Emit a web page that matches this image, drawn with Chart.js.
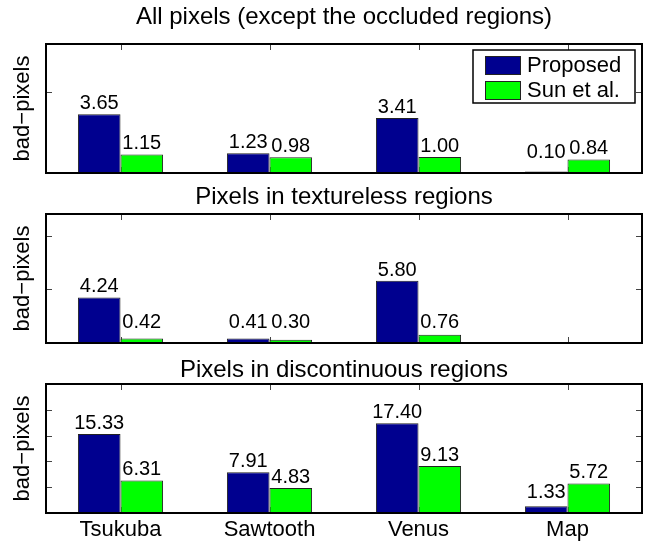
<!DOCTYPE html>
<html>
<head>
<meta charset="utf-8">
<script src="https://cdn.jsdelivr.net/npm/chart.js@4.4.0/dist/chart.umd.min.js"></script>
<style>
  html, body { margin: 0; padding: 0; background: #fff; }
  #wrap { position: relative; width: 649px; height: 541px; }
  #wrap canvas { position: absolute; left: 0; }
</style>
</head>
<body>
<div id="wrap">
  <canvas id="c1" width="649" height="175" style="top:0px"></canvas>
  <canvas id="c2" width="649" height="175" style="top:170px"></canvas>
  <canvas id="c3" width="649" height="201" style="top:340px"></canvas>
</div>
<script>
// data
const categories = ['Tsukuba', 'Sawtooth', 'Venus', 'Map'];
const seriesNames = ['Proposed', 'Sun et al.'];
const panelTitles = [
    'All pixels (except the occluded regions)',
    'Pixels in textureless regions',
    'Pixels in discontinuous regions'
];
const allProposed = [3.65, 1.23, 3.41, 0.10];
const allSun = [1.15, 0.98, 1.00, 0.84];
const texturelessProposed = [4.24, 0.41, 5.80, null];
const texturelessSun = [0.42, 0.30, 0.76, null];
const discProposed = [15.33, 7.91, 17.40, 1.33];
const discSun = [6.31, 4.83, 9.13, 5.72];
const yMaxes = [8, 12, 25];
const yTickValues = [5, 10, 15, 20];
const yLabel = 'bad\u2212pixels';

const FONT = '"Liberation Sans", Arial, Helvetica, sans-serif';
const colors = ['#00008f', '#00ff00'];

// matlab style box with inward ticks
const boxPlugin = {
    id: 'matlabBox',
    beforeDatasetsDraw(chart) {
        const { ctx, chartArea: a, scales: { x, y } } = chart;
        ctx.save();
        ctx.strokeStyle = '#444';
        ctx.lineWidth = 1;
        ctx.beginPath();
        yTickValues.forEach(v => {
            if (v <= y.min || v >= y.max) return;
            const py = Math.round(y.getPixelForValue(v)) + 0.5;
            ctx.moveTo(a.left, py); ctx.lineTo(a.left + 6, py);
            ctx.moveTo(a.right, py); ctx.lineTo(a.right - 6, py);
        });
        categories.forEach((c, i) => {
            const px = Math.round(x.getPixelForValue(i)) + 0.5;
            ctx.moveTo(px, a.top); ctx.lineTo(px, a.top + 6);
            ctx.moveTo(px, a.bottom); ctx.lineTo(px, a.bottom - 6);
        });
        ctx.stroke();
        ctx.restore();
    },
    afterDraw(chart) {
        const { ctx, chartArea: a } = chart;
        ctx.save();
        ctx.strokeStyle = '#000';
        ctx.lineWidth = 2;
        ctx.strokeRect(a.left, a.top, a.right - a.left, a.bottom - a.top);
        ctx.restore();
    }
};

// numbers above the bars
const valuePlugin = {
    id: 'barValues',
    afterDatasetsDraw(chart) {
        const { ctx, chartArea: a } = chart;
        ctx.save();
        ctx.font = '20px ' + FONT;
        ctx.fillStyle = '#000';
        ctx.textAlign = 'center';
        ctx.textBaseline = 'alphabetic';
        chart.data.datasets.forEach((ds, di) => {
            chart.getDatasetMeta(di).data.forEach((bar, i) => {
                const v = ds.data[i];
                if (v == null) return;
                const yy = Math.min(bar.y - 5, a.bottom - 15);
                ctx.fillText(v.toFixed(2), bar.x, yy);
            });
        });
        ctx.restore();
    }
};

// boxed legend in the upper right corner
const legendPlugin = {
    id: 'boxLegend',
    afterDraw(chart, args, opts) {
        if (!opts.show) return;
        const { ctx, chartArea: a } = chart;
        const w = 162, h = 53;
        const lx = a.right - 7 - w, ly = a.top + 6;
        ctx.save();
        ctx.fillStyle = '#fff';
        ctx.fillRect(lx, ly, w, h);
        ctx.strokeStyle = '#000';
        ctx.lineWidth = 1.5;
        ctx.strokeRect(lx, ly, w, h);
        ctx.font = '22px ' + FONT;
        ctx.textBaseline = 'middle';
        chart.data.datasets.forEach((ds, i) => {
            const ry = ly + 6 + i * 25;
            ctx.fillStyle = ds.backgroundColor;
            ctx.fillRect(lx + 12, ry, 35, 18);
            ctx.strokeStyle = '#222';
            ctx.lineWidth = 1;
            ctx.strokeRect(lx + 12.5, ry + 0.5, 35, 18);
            ctx.fillStyle = '#000';
            ctx.fillText(ds.label, lx + 54, ry + 10);
        });
        ctx.restore();
    }
};

function makePanel(canvasId, idx, proposed, sun, showX, titlePad, showLegend) {
    const ctx = document.getElementById(canvasId).getContext('2d');
    return new Chart(ctx, {
        type: 'bar',
        data: {
            labels: categories,
            datasets: [
                { label: seriesNames[0], data: proposed, backgroundColor: colors[0],
                  borderColor: '#222', borderWidth: 1 },
                { label: seriesNames[1], data: sun, backgroundColor: colors[1],
                  borderColor: '#222', borderWidth: 1 }
            ]
        },
        options: {
            responsive: false,
            animation: false,
            datasets: { bar: { barPercentage: 1, categoryPercentage: 0.5714 } },
            layout: { padding: { left: 0, right: 7, top: 0, bottom: showX ? 0 : 2 } },
            plugins: {
                legend: { display: false },
                tooltip: { enabled: false },
                title: {
                    display: true,
                    fullSize: false,
                    text: panelTitles[idx],
                    color: '#000',
                    font: { family: FONT, size: 24, weight: 'normal', lineHeight: 1 },
                    padding: titlePad
                },
                boxLegend: { show: showLegend }
            },
            scales: {
                x: {
                    grid: { display: false },
                    border: { display: false },
                    ticks: {
                        display: showX,
                        color: '#000',
                        padding: -2,
                        maxRotation: 0,
                        font: { family: FONT, size: 22, lineHeight: 1 }
                    },
                    afterFit(scale) { scale.height = showX ? 28 : 0; }
                },
                y: {
                    min: 0,
                    max: yMaxes[idx],
                    grid: { display: false },
                    border: { display: false },
                    ticks: { display: false },
                    title: {
                        display: true,
                        text: yLabel,
                        color: '#000',
                        font: { family: FONT, size: 22, lineHeight: 1 },
                        padding: { top: 12, bottom: 0 }
                    },
                    afterFit(scale) { scale.width = 46; }
                }
            }
        },
        plugins: [boxPlugin, valuePlugin, legendPlugin]
    });
}

makePanel('c1', 0, allProposed, allSun, false, { top: 5, bottom: 15 }, true);
makePanel('c2', 1, texturelessProposed, texturelessSun, false, { top: 15, bottom: 5 }, false);
makePanel('c3', 2, discProposed, discSun, true, { top: 18, bottom: 2 }, false);
</script>
</body>
</html>
